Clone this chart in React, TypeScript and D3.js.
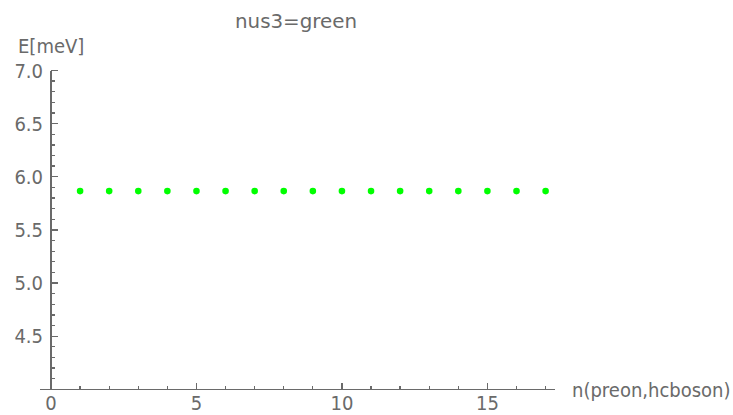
import React from "react";
import * as d3 from "d3";

const nValues = [1, 2, 3, 4, 5, 6, 7, 8, 9, 10, 11, 12, 13, 14, 15, 16, 17];
const energies = [5.865, 5.865, 5.865, 5.865, 5.865, 5.865, 5.865, 5.865, 5.865, 5.865, 5.865, 5.865, 5.865, 5.865, 5.865, 5.865, 5.865];
const xTickLabels = [0, 5, 10, 15];
const yTickLabels = [4.5, 5.0, 5.5, 6.0, 6.5, 7.0];
const title = "nus3=green";
const xLabel = "n(preon,hcboson)";
const yLabel = "E[meV]";

const W = 733;
const H = 415;
const FONT = "'Liberation Sans Narrow', 'DejaVu Sans Condensed', 'Liberation Sans', sans-serif";
const GRAY = "#6a6a6a";

export default function App() {
  const x = d3.scaleLinear().domain([0, 17]).range([51, 545.6]);
  const y = d3.scaleLinear().domain([4.0, 7.0]).range([389.3, 70.5]);

  const xMinor = d3.range(1, 18).filter((v) => v % 5 !== 0);
  const xMajor = xTickLabels.filter((v) => v !== 0);
  const yMinor = d3.range(41, 70).map((v) => v / 10).filter((v) => Math.round(v * 10) % 5 !== 0);

  const x0 = x(0);
  const y0 = y(4.0);

  return (
    <svg width={W} height={H} style={{ position: "absolute", left: 0, top: 0, background: "#fff" }}>
      <g stroke={GRAY} strokeWidth={1.3} shapeRendering="crispEdges">
        <line x1={40} x2={555} y1={y0} y2={y0} />
        <line x1={x0} x2={x0} y1={y0} y2={y(7.0)} />
        {xMinor.map((v) => (
          <line key={"xm" + v} x1={x(v)} x2={x(v)} y1={y0} y2={y0 - 3.5} />
        ))}
        {xMajor.map((v) => (
          <line key={"xM" + v} x1={x(v)} x2={x(v)} y1={y0} y2={y0 - 6.5} />
        ))}
        {yMinor.map((v) => (
          <line key={"ym" + v} x1={x0} x2={x0 + 4} y1={y(v)} y2={y(v)} />
        ))}
        {yTickLabels.map((v) => (
          <line key={"yM" + v} x1={x0} x2={x0 + 7} y1={y(v)} y2={y(v)} />
        ))}
      </g>
      <g fill={GRAY} fontFamily={FONT} fontSize={20}>
        {xTickLabels.map((v) => (
          <text key={"xl" + v} x={x(v)} y={410} textAnchor="middle">
            {v}
          </text>
        ))}
        {yTickLabels.map((v) => (
          <text key={"yl" + v} x={43} y={y(v) + 7} textAnchor="end">
            {d3.format(".1f")(v)}
          </text>
        ))}
        <text x={18} y={53}>{yLabel}</text>
        <text x={572} y={396.5}>{xLabel}</text>
        <text x={296} y={28} textAnchor="middle" textLength={122} lengthAdjust="spacingAndGlyphs">{title}</text>
      </g>
      <g fill="#00ff00">
        {nValues.map((n, i) => (
          <circle key={"p" + n} cx={x(n)} cy={y(energies[i])} r={3.3} />
        ))}
      </g>
    </svg>
  );
}
